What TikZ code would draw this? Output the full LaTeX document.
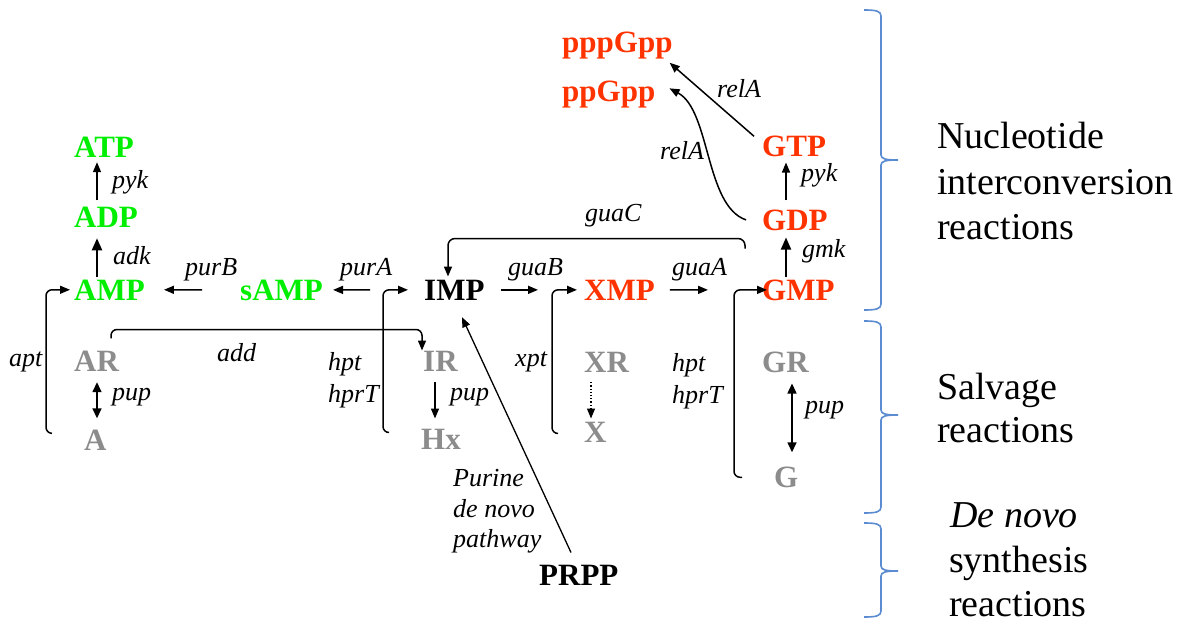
\documentclass[tikz,border=0pt]{standalone}
\usepackage{fontspec}
\setmainfont{Liberation Serif}
\usetikzlibrary{arrows.meta}
\definecolor{adecol}{HTML}{00EE00}
\definecolor{guacol}{HTML}{FF3300}
\definecolor{salcol}{HTML}{8C8C8C}
\definecolor{bracecol}{HTML}{5B8BD0}
\begin{document}
\begin{tikzpicture}[x=1pt,y=-1pt,
  cpd/.style={anchor=base west,inner sep=0pt,font=\fontsize{31}{31}\selectfont\bfseries},
  adecpd/.style={cpd,text=adecol},
  guacpd/.style={cpd,text=guacol},
  salcpd/.style={cpd,text=salcol},
  enz/.style={anchor=base west,inner sep=0pt,font=\fontsize{26}{26}\selectfont\itshape},
  cls/.style={anchor=base west,inner sep=0pt,font=\fontsize{38}{38}\selectfont},
  rxn/.style={line width=1.5pt,-{Triangle[length=10pt,width=8pt]}},
  thickrxn/.style={line width=2pt,-{Triangle[length=12pt,width=10pt]}},
  bothrxn/.style={line width=1.5pt,{Triangle[length=10pt,width=9pt]}-{Triangle[length=10pt,width=9pt]}},
  bracket/.style={draw=bracecol,line width=1.6pt}]
\useasboundingbox (0,0) rectangle (1182,628);

% compounds
\node[adecpd] (ATP)  at (74,158)  {ATP};
\node[adecpd] (ADP)  at (74,228)  {ADP};
\node[adecpd] (AMP)  at (74,300)  {AMP};
\node[adecpd] (sAMP) at (240,300) {sAMP};
\node[cpd]    (IMP)  at (424,300) {IMP};
\node[guacpd] (XMP)  at (584,300) {XMP};
\node[guacpd] (GMP)  at (762,300) {GMP};
\node[guacpd] (GDP)  at (762,230) {GDP};
\node[guacpd] (GTP)  at (762,157) {GTP};
\node[guacpd] (pppGpp) at (562,53)  {pppGpp};
\node[guacpd] (ppGpp)  at (562,102) {ppGpp};
\node[salcpd] (AR) at (74,371)  {AR};
\node[salcpd] (A)  at (84,450)  {A};
\node[salcpd] (IR) at (423,371) {IR};
\node[salcpd] (Hx) at (421,449) {Hx};
\node[salcpd] (XR) at (584,372) {XR};
\node[salcpd] (X)  at (584,442) {X};
\node[salcpd] (GR) at (762,372) {GR};
\node[salcpd] (G)  at (774,487) {G};
\node[cpd]    (PRPP) at (539,585) {PRPP};

% enzyme labels
\node[enz] (pykA)  at (112,189) {pyk};
\node[enz] (adk)   at (113,265) {adk};
\node[enz] (purB)  at (185,275) {purB};
\node[enz] (purA)  at (340,275) {purA};
\node[enz] (guaB)  at (508,275) {guaB};
\node[enz] (guaA)  at (672,275) {guaA};
\node[enz] (guaC)  at (585,222) {guaC};
\node[enz] (relA1) at (717,98)  {relA};
\node[enz] (relA2) at (660,160) {relA};
\node[enz] (pykG)  at (801,182) {pyk};
\node[enz] (gmk)   at (802,257) {gmk};
\node[enz] (apt)   at (9,366)   {apt};
\node[enz] (add)   at (217,361) {add};
\node[enz] (pupA)  at (112,400) {pup};
\node[enz] (hptL)  at (328,370) {hpt};
\node[enz] (hprTL) at (328,402) {hprT};
\node[enz] (pupI)  at (450,400) {pup};
\node[enz] (xpt)   at (515,366) {xpt};
\node[enz] (hptR)  at (672,371) {hpt};
\node[enz] (hprTR) at (672,403) {hprT};
\node[enz] (pupG)  at (805,413) {pup};
\node[enz] (dn1)   at (453,486) {Purine};
\node[enz] (dn2)   at (453,517) {de novo};
\node[enz] (dn3)   at (453,547) {pathway};

% adenine branch
\draw[rxn] ([xshift=23pt,yshift=7pt]ADP.north west) -- ([xshift=23pt,yshift=-4pt]ATP.south west);
\draw[thickrxn] ([xshift=23pt,yshift=2pt]AMP.north west) -- ([xshift=23pt,yshift=-10pt]ADP.south west);
\draw[rxn] ([xshift=-38pt]sAMP.west) -- ([xshift=19pt]AMP.east);
\draw[rxn] ([xshift=-54pt]IMP.west) -- ([xshift=10pt]sAMP.east);

% guanine branch
\draw[rxn] ([xshift=16pt]IMP.east) -- ([xshift=-46pt]XMP.west);
\draw[rxn] ([xshift=15pt]XMP.east) -- ([xshift=-54pt]GMP.west);
\draw[thickrxn] ([xshift=24pt,yshift=2pt]GMP.north west) -- ([xshift=24pt,yshift=-7pt]GDP.south west);
\draw[rxn] ([xshift=24pt,yshift=9pt]GDP.north west) -- ([xshift=24pt,yshift=-5pt]GTP.south west);
\draw[rxn] ([xshift=-8pt]GTP.north west) -- ([xshift=-3pt,yshift=-3pt]pppGpp.south east);
\draw[rxn] ([xshift=-16pt]GDP.west) .. controls +(-41,-14) and +(41,22) .. ([xshift=14pt,yshift=6.7pt]ppGpp.east);
\draw[rxn,rounded corners=7pt] ([xshift=-17pt,yshift=-18pt]GDP.south west)
  |- ([xshift=24pt,yshift=41pt]IMP.north west) -- ([xshift=24pt,yshift=3pt]IMP.north west);

% salvage reactions
\draw[rxn,rounded corners=6pt] ([xshift=-32pt,yshift=-4pt]A.north west) -- ++(-6,0) |- ([xshift=-4pt]AMP.west);
\draw[rxn,rounded corners=6pt] ([xshift=-32pt,yshift=-4pt]Hx.north west) -- ++(-6,0) |- ([xshift=-16pt]IMP.west);
\draw[rxn,rounded corners=6pt] ([xshift=-26pt,yshift=-12pt]X.north west) -- ++(-6,0) |- ([xshift=-7pt]XMP.west);
\draw[rxn,rounded corners=6pt] ([xshift=-32pt,yshift=-11pt]G.north west) -- ++(-8,0) |- ([xshift=5pt]GMP.west);
\draw[rxn,rounded corners=6pt] ([xshift=37pt,yshift=12pt]AR.north west)
  |- ([xshift=-1pt,yshift=21pt]IR.north west) -- ([xshift=-1pt]IR.north west);
\draw[bothrxn] ([xshift=23pt,yshift=-11pt]AR.south west) -- ([xshift=13pt,yshift=11pt]A.north west);
\draw[rxn] ([xshift=12pt,yshift=-11pt]IR.south west) -- ([xshift=14pt,yshift=10pt]Hx.north west);
\draw[rxn,line width=1.2pt,dotted] ([xshift=7pt,yshift=-10pt]XR.south west) -- ([xshift=7pt,yshift=3pt]X.north west);
\draw[bothrxn] ([xshift=30pt,yshift=-11pt]GR.south west) -- ([xshift=18pt,yshift=14pt]G.north west);

% de novo synthesis
\draw[rxn,line width=1.3pt] ([xshift=32pt,yshift=12pt]PRPP.north west) -- ([xshift=38pt,yshift=-17pt]IMP.south west);

% reaction class brackets
\draw[bracket] (864,10) .. controls (876,10) and (881,11) .. (881,16) -- (881,155)
  .. controls (881,159) and (886,160) .. (898,160) .. controls (886,160) and (881,161) .. (881,165)
  -- (881,304) .. controls (881,309) and (876,310) .. (864,310);
\draw[bracket] (864,321) .. controls (876,321) and (881,322) .. (881,327) -- (881,410)
  .. controls (881,414) and (886,415) .. (898,415) .. controls (886,415) and (881,416) .. (881,420)
  -- (881,507) .. controls (881,512) and (876,513) .. (864,513);
\draw[bracket] (864,523) .. controls (876,523) and (881,524) .. (881,529) -- (881,566)
  .. controls (881,570) and (886,571) .. (898,571) .. controls (886,571) and (881,572) .. (881,576)
  -- (881,611) .. controls (881,616) and (876,617) .. (864,617);

\node[cls] (c1a) at (937,149) {Nucleotide};
\node[cls] (c1b) at (937,195) {interconversion};
\node[cls] (c1c) at (937,240) {reactions};
\node[cls] (c2a) at (937,399) {Salvage};
\node[cls] (c2b) at (937,442) {reactions};
\node[cls] (c3a) at (950,527) {\itshape De novo};
\node[cls] (c3b) at (949,572) {synthesis};
\node[cls] (c3c) at (949,616) {reactions};
\end{tikzpicture}
\end{document}
